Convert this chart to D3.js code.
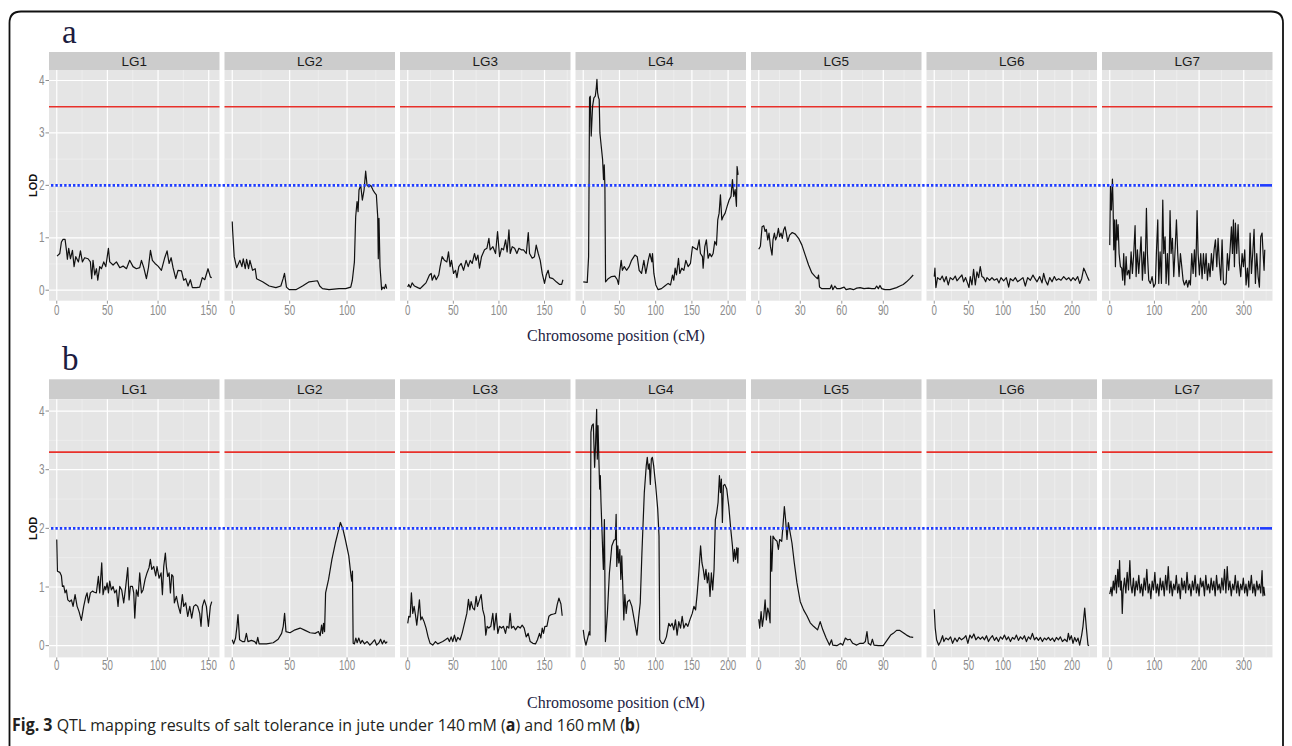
<!DOCTYPE html>
<html><head><meta charset="utf-8">
<script src="https://cdn.jsdelivr.net/npm/d3@7"></script>
<style>html,body{margin:0;padding:0;background:#fff;}svg{display:block;}</style>
</head><body>
<svg id="chart" width="1292" height="746"></svg>
<script>
// ---------------- DATA ----------------
const lgNames = ["LG1","LG2","LG3","LG4","LG5","LG6","LG7"];
const lgLength = [153, 135, 170, 214, 112, 225, 347];
const xTickValues = [[0,50,100,150],[0,50,100],[0,50,100,150],[0,50,100,150,200],[0,30,60,90],[0,50,100,150,200],[0,100,200,300]];
const yTickValues = [0,1,2,3,4];
const redThreshold = [3.5, 3.3];   // panel a, panel b
const blueThreshold = [2, 2];
const panelLetters = ["a","b"];
const axisTitle = "Chromosome position (cM)";
const yTitle = "LOD";

// panel a (140 mM) : [position cM, LOD]
const a_LG1 = [[0.3,0.65],[3,0.70],[4.6,0.92],[6.2,0.97],[8.2,0.97],[9.6,0.76],[10.5,0.59],[11.8,0.80],[13.5,0.60],[15.5,0.76],[17.1,0.45],[18.8,0.64],[21.4,0.54],[23.4,0.75],[25.3,0.54],[27.6,0.62],[30.9,0.60],[33.2,0.54],[34.5,0.22],[35.8,0.57],[37.5,0.29],[39.2,0.41],[40.5,0.19],[42.4,0.45],[44.1,0.41],[46.4,0.54],[48.4,0.45],[49.7,0.62],[51,0.80],[52.3,0.54],[55.6,0.48],[58.9,0.54],[62.2,0.43],[65.5,0.46],[68.8,0.41],[72,0.57],[75.3,0.45],[78.6,0.41],[81.9,0.43],[83.6,0.57],[85.9,0.43],[88.5,0.22],[90.5,0.43],[92.5,0.76],[94.4,0.57],[97,0.51],[100,0.46],[103.3,0.38],[106.6,0.62],[108.9,0.75],[110.9,0.51],[112.9,0.62],[114.8,0.43],[117.5,0.22],[119.7,0.38],[123.1,0.37],[125.3,0.19],[127.3,0.22],[129.6,0.08],[131.9,0.20],[133.9,0.05],[137.9,0.05],[141.1,0.06],[143.7,0.24],[146.1,0.20],[149.3,0.41],[151.7,0.25],[153,0.24]];
const a_LG2 = [[0,1.31],[0.3,1.15],[1.7,0.64],[3.8,0.43],[6.7,0.57],[8.4,0.45],[9.6,0.60],[11.3,0.41],[12.5,0.59],[14.2,0.41],[15.4,0.57],[17.7,0.38],[20,0.41],[21.2,0.22],[26.4,0.16],[32.2,0.08],[38,0.05],[42.3,0.08],[44.3,0.22],[45.5,0.32],[47.2,0.06],[49.6,0.01],[55.4,0.01],[61.2,0.08],[67,0.16],[74.2,0.18],[76.2,0.08],[78.6,0.03],[84.3,0.01],[93,0.03],[98.8,0.03],[103.2,0.06],[104.6,0.19],[106.4,0.54],[107.5,1.40],[108.7,1.69],[109.6,1.50],[110.4,1.91],[111.9,2.00],[113.3,1.72],[114.8,1.91],[116.2,2.27],[117.4,2.00],[119.1,1.97],[120.6,2.00],[122.6,1.91],[124.3,1.85],[125.5,1.82],[126.7,1.40],[127.2,0.60],[127.8,1.37],[128.7,0.45],[130.1,0.01],[131.3,0.06],[132.5,0.03],[133.6,0.11],[134.5,0.03]];
const a_LG3 = [[0,0.06],[1.1,0.11],[3,0.05],[4.8,0.14],[7.4,0.08],[11,0.05],[13.6,0.03],[16.5,0.08],[20,0.14],[22,0.22],[23.8,0.29],[25.7,0.32],[26.8,0.19],[29.3,0.29],[31.2,0.20],[34,0.29],[35.5,0.45],[37.7,0.64],[40.3,0.57],[42.9,0.54],[44.7,0.73],[46.5,0.45],[48,0.57],[50.2,0.32],[52.4,0.38],[53.9,0.24],[56,0.45],[58.6,0.51],[61.2,0.38],[64,0.57],[66.3,0.45],[68.5,0.57],[70.7,0.51],[73.2,0.70],[75,0.57],[76.9,0.67],[78.7,0.42],[80.9,0.64],[84.2,0.77],[86.8,0.80],[89,0.99],[90.4,0.77],[93.4,0.83],[96.3,0.70],[98.5,1.12],[100.7,0.64],[102.9,0.80],[105,0.77],[107.3,0.96],[109,0.73],[111,1.15],[112.4,0.70],[114.6,0.83],[117.2,0.80],[119.7,0.70],[121.9,0.80],[124.5,0.77],[127,0.77],[130,0.70],[132.2,1.10],[133.6,0.70],[136.5,0.61],[139,0.64],[140.9,0.86],[143.1,0.70],[145.3,0.57],[147.5,0.32],[150,0.13],[151.9,0.29],[154,0.38],[155.6,0.24],[159.2,0.22],[162.9,0.16],[166.6,0.11],[168.8,0.11],[170.2,0.20]];
const a_LG4 = [[0,0.16],[5.5,0.15],[7.4,0.64],[8.7,3.67],[9.7,3.70],[11,2.94],[12.9,3.51],[14.7,3.67],[16.6,3.70],[18,3.86],[18.9,4.02],[19.8,3.77],[21.1,3.67],[22,3.64],[23,3.00],[24.8,2.75],[26.7,2.49],[28,2.11],[29,2.39],[29.9,1.98],[30.8,0.16],[34.5,0.22],[39,0.26],[43.7,0.27],[47,0.20],[48.7,0.11],[50.6,0.38],[52.4,0.57],[54,0.38],[56.6,0.45],[59.8,0.38],[63.4,0.45],[66.7,0.57],[71.3,0.67],[74.5,0.64],[77.2,0.38],[80.5,0.32],[83.7,0.57],[86.4,0.32],[90,0.59],[92,0.70],[94.7,0.54],[95.6,0.70],[97.5,0.32],[100.2,0.10],[103.4,0.01],[108,0.03],[112.6,0.08],[117.2,0.13],[120.5,0.10],[123.2,0.29],[125,0.19],[126.9,0.42],[128.7,0.29],[131.5,0.61],[133.3,0.32],[136,0.42],[138.9,0.38],[141.6,0.57],[144.8,0.45],[148,0.51],[150.8,0.83],[154,0.80],[157.2,0.77],[160,0.96],[161.8,0.70],[164.6,0.64],[165.5,0.42],[167.8,0.83],[170,0.96],[172.4,0.61],[174.7,0.70],[177,0.64],[179.3,0.70],[181.6,0.93],[183.9,0.86],[185.7,1.34],[187.6,1.47],[189.4,1.82],[191.3,1.34],[193,1.40],[195.9,1.47],[198.6,1.60],[201.4,1.72],[204,1.79],[206,2.11],[207.8,1.79],[209.7,1.92],[211.5,1.60],[212.4,2.36],[213.8,2.20]];
const a_LG5 = [[0,0.78],[1.2,0.84],[2.4,1.21],[3.6,1.23],[4.6,1.12],[5.5,1.16],[6.5,0.96],[7.4,1.09],[8.4,0.84],[9.6,0.67],[10.3,0.96],[11.3,1.09],[12.2,0.96],[13.2,1.03],[14.2,1.18],[15.1,1.02],[16.1,1.09],[17,0.99],[18,1.15],[19,1.21],[19.9,1.09],[20.9,0.93],[22.3,1.05],[24.2,1.10],[26.4,1.07],[28.8,0.99],[31.2,0.86],[33.6,0.67],[36,0.48],[38.4,0.33],[40.8,0.26],[42.5,0.22],[43.2,0.29],[43.9,0.06],[45.6,0.03],[49.2,0.03],[51.6,0.03],[52.6,0.10],[53.5,0.01],[55,0.08],[56.4,0.03],[58.8,0.03],[61.7,0.06],[63.1,0.01],[66,0.03],[68.4,0.01],[70.8,0.04],[73.2,0.05],[76.1,0.03],[79.2,0.04],[81.6,0.03],[84,0.03],[85.2,0.08],[86.4,0.03],[87.6,0.09],[88.8,0.03],[91.2,0.01],[94.8,0.01],[97.2,0.03],[99.6,0.05],[102,0.08],[104.4,0.11],[106.8,0.16],[109.2,0.22],[111.6,0.29]];
const a_LG6 = [[0,0.26],[1,0.42],[2.4,0.05],[4.8,0.24],[8.7,0.20],[11.6,0.27],[14.5,0.16],[17.4,0.26],[20.3,0.10],[23.2,0.24],[27,0.20],[30.5,0.27],[33,0.18],[36.8,0.24],[40.2,0.29],[42.6,0.16],[45.5,0.24],[48.4,0.13],[50.4,0.05],[52.3,0.26],[54.7,0.10],[57.1,0.40],[59.6,0.10],[62,0.35],[64.4,0.24],[66.8,0.45],[69.2,0.26],[71.7,0.24],[74.6,0.16],[76.5,0.24],[80.4,0.19],[83.8,0.24],[87.2,0.19],[91,0.22],[94,0.14],[96.9,0.24],[100.7,0.18],[104.6,0.24],[108,0.06],[110.4,0.22],[114.3,0.18],[117.7,0.24],[121,0.16],[125,0.20],[128.8,0.24],[132.2,0.08],[135.6,0.24],[139.5,0.19],[143.3,0.29],[145.3,0.24],[149.2,0.16],[153,0.26],[156.4,0.14],[158.8,0.32],[161.3,0.19],[164.6,0.10],[167.6,0.24],[171,0.16],[174.3,0.26],[177.2,0.19],[180.6,0.22],[184,0.19],[187.9,0.26],[191.8,0.20],[195.2,0.24],[198.5,0.18],[201.5,0.24],[204.8,0.19],[208.2,0.26],[211.1,0.13],[214,0.22],[217,0.42],[219.4,0.35],[222.8,0.24],[225,0.18]];
const a_LG7 = [[0,0.86],[1.5,1.98],[3.7,1.53],[6,2.12],[7.5,1.60],[9,0.77],[11,1.34],[12.7,0.45],[15,1.34],[16.4,0.96],[18.7,1.25],[20.9,0.70],[23.9,0.45],[26.9,0.42],[29,0.19],[31.3,0.70],[33.6,0.10],[36.6,0.64],[38.8,0.29],[42.5,0.38],[44.8,0.22],[47.8,0.73],[50.7,0.32],[53.7,0.70],[56.7,1.23],[59,0.26],[61.9,0.77],[64.9,0.32],[67.9,0.70],[70.1,1.02],[73.1,0.19],[76.1,0.73],[79.1,0.32],[82.1,1.56],[84.3,0.70],[87.3,0.19],[91,0.13],[94.8,0.26],[98.5,0.06],[102.2,0.13],[104.5,0.73],[107.5,1.34],[109.7,0.13],[112.7,0.73],[115.7,0.13],[118.7,1.72],[120.9,0.70],[123.9,1.02],[126.1,0.13],[129.1,0.70],[132.1,0.10],[135,1.52],[137.3,0.70],[140.3,0.99],[143.3,0.26],[146.3,0.77],[149.3,1.34],[152.2,0.70],[155.2,0.26],[158.2,0.70],[161.2,0.45],[164.2,0.19],[167.2,0.10],[171.6,0.19],[174.6,0.06],[177.6,0.19],[180.6,0.10],[183.6,0.70],[186.6,0.32],[189.6,0.77],[192.5,0.26],[195.5,1.52],[197.8,0.70],[200.7,0.29],[203.7,0.70],[206.7,0.22],[209.7,0.70],[212.7,0.32],[215.7,0.70],[218.7,0.19],[221.6,0.51],[224.6,0.26],[227.6,0.70],[230.6,0.38],[233.6,0.77],[236.6,0.96],[239.6,0.45],[242.5,0.99],[245.5,0.51],[248.5,0.19],[251.5,0.96],[254.5,0.13],[257.5,0.10],[260.4,0.13],[263.4,0.70],[266.4,0.38],[269.4,0.77],[272.4,1.21],[274.6,0.70],[276.9,1.34],[279.1,0.45],[281.3,1.28],[284.3,0.70],[287.3,1.25],[290.3,0.51],[293.3,0.26],[296.3,0.70],[299.3,0.45],[302.2,0.77],[305.2,0.10],[308.2,0.42],[311.2,0.06],[314.2,1.09],[317.2,0.32],[320.1,0.70],[323.1,1.16],[326.1,0.13],[329.1,0.70],[332.1,0.26],[335.1,0.06],[338,1.02],[341,1.09],[343.3,0.70],[345.5,0.38],[347,0.77]];

// panel b (160 mM)
const b_LG1 = [[0,1.81],[0.7,1.27],[3,1.25],[4.6,1.19],[5.6,1.01],[6.9,1.02],[8.2,0.90],[9.5,0.95],[10.9,0.78],[12.8,0.75],[14.5,0.78],[16.1,0.67],[18.1,0.87],[20.1,0.67],[22,0.58],[24.3,0.43],[26.6,0.67],[28.6,0.83],[29.9,0.90],[31.3,0.73],[33.2,0.90],[35.2,0.93],[37.2,0.91],[39.1,0.90],[41.1,1.18],[42.4,0.90],[44.4,1.41],[45.7,0.87],[47.4,1.01],[48.4,0.95],[49.7,1.07],[51,0.90],[52.3,1.10],[53.9,0.95],[55.6,1.01],[57.2,0.90],[58.9,0.95],[60.5,0.67],[62.2,1.01],[64.1,0.95],[66.1,0.73],[68.1,1.01],[70.1,1.33],[71.4,0.78],[72.7,1.01],[74.7,1.01],[76,0.90],[77,0.47],[78.6,0.95],[80.3,0.84],[81.9,1.24],[83.6,0.90],[85.2,0.95],[87.2,1.13],[89.1,1.24],[91.1,1.33],[92.4,1.47],[93.8,1.30],[95.7,1.35],[97.7,1.19],[99,1.35],[101,1.15],[103,1.24],[104.3,0.87],[105.6,1.35],[107.2,1.58],[108.2,1.35],[109.5,1.18],[110.9,1.24],[112.2,0.90],[113.5,1.21],[114.8,1.18],[116.1,0.73],[118.1,0.84],[120.1,0.67],[122,0.55],[124,0.87],[125.3,0.67],[127.3,0.73],[129.3,0.50],[131.3,0.67],[133.2,0.47],[135.2,0.67],[137.2,0.70],[139.1,0.67],[141.1,0.55],[142.4,0.33],[143.8,0.67],[145.7,0.78],[147.7,0.67],[149.7,0.33],[151.6,0.67],[153,0.75]];
const b_LG2 = [[0,0.10],[1.2,0.03],[2.9,0.13],[4.1,0.33],[5,0.53],[6.4,0.10],[8.8,0.07],[10.8,0.07],[12.3,0.21],[13.7,0.07],[16.7,0.09],[19.6,0.07],[21,0.03],[22.2,0.14],[23.4,0.03],[29.8,0.03],[35.7,0.05],[40,0.11],[43,0.21],[44.4,0.33],[45.6,0.55],[46.8,0.24],[50.3,0.22],[54.7,0.27],[59.1,0.30],[63.5,0.26],[67.8,0.22],[72.2,0.21],[75.1,0.24],[76.6,0.17],[77.8,0.35],[78.7,0.21],[79.5,0.38],[80.4,0.24],[81.3,0.90],[83.9,1.13],[86.8,1.47],[89.8,1.75],[92.7,1.98],[94.2,2.10],[96.5,1.98],[98.5,1.81],[101.5,1.53],[103.5,1.18],[104.1,1.10],[104.7,1.27],[105.3,0.04],[106.4,0.03],[107.6,0.13],[108.8,0.05],[110.2,0.13],[111.7,0.04],[113.2,0.09],[115.2,0.03],[117.5,0.07],[119.9,0.01],[121.9,0.05],[124,0.10],[125.7,0.01],[127.8,0.05],[129.2,0.11],[130.7,0.03],[132.2,0.09],[133.6,0.04],[135,0.07]];
const b_LG3 = [[0,0.38],[1.1,0.50],[2.6,0.49],[4,0.90],[5.5,0.55],[7,0.67],[8.4,0.53],[9.9,0.35],[11.3,0.55],[12.8,0.78],[14.3,0.44],[15.7,0.49],[17.9,0.41],[20.1,0.30],[22.3,0.15],[24.5,0.04],[27.4,0.01],[30.4,0.07],[32.9,0.03],[35.5,0.05],[38.4,0.07],[41.3,0.10],[43.9,0.13],[45.7,0.07],[47.6,0.15],[49.4,0.07],[51.2,0.18],[53.1,0.07],[54.9,0.14],[57.4,0.10],[59.6,0.21],[62.2,0.38],[64.8,0.55],[66.6,0.79],[68.1,0.61],[69.5,0.75],[71.4,0.64],[73.2,0.61],[75,0.84],[76.5,0.67],[78.7,0.78],[80.5,0.87],[82.3,0.61],[84.2,0.50],[85.6,0.18],[87.1,0.33],[88.9,0.30],[91.1,0.33],[93.3,0.55],[94.8,0.27],[97,0.55],[98.8,0.21],[100.6,0.33],[102.8,0.30],[105,0.33],[107.2,0.21],[108.7,0.33],[110.9,0.30],[112.3,0.55],[113.8,0.30],[116,0.33],[118.2,0.27],[120.7,0.33],[123.3,0.30],[125.5,0.35],[127.7,0.30],[129.9,0.15],[132.1,0.21],[134.3,0.07],[137.2,0.04],[140.1,0.03],[142.3,0.10],[144.5,0.21],[146,0.13],[147.5,0.30],[148.9,0.21],[150.4,0.33],[152.6,0.33],[154.8,0.50],[157.3,0.53],[159.9,0.54],[162.1,0.55],[163.9,0.70],[165.8,0.81],[168,0.71],[169.4,0.51]];
const b_LG4 = [[0,0.27],[1.4,0.13],[3.7,0.01],[6.5,0.15],[8.3,0.24],[9.3,0.18],[10.6,3.64],[12,3.75],[13.9,3.78],[15.7,3.04],[17.1,3.47],[18.5,4.03],[19.4,3.18],[20.4,3.75],[21.8,3.07],[22.7,2.67],[23.6,2.90],[24.5,2.44],[25.9,1.95],[26.9,1.58],[27.8,1.30],[29.2,2.15],[30.6,0.07],[33.3,0.55],[36.1,1.24],[39.4,1.70],[42.6,1.80],[44.4,1.81],[45.4,2.24],[46.3,1.35],[47.7,1.70],[49.1,1.41],[50.5,1.64],[51.9,1.13],[53.2,1.53],[54.6,1.01],[56,0.44],[57.4,0.87],[59.3,0.55],[61.1,0.75],[63.9,0.78],[67.1,0.67],[70.4,0.44],[74.1,0.18],[76.4,0.47],[78.7,0.73],[81,1.58],[84.3,2.61],[87,3.07],[88.4,3.21],[89.8,3.01],[91.2,3.10],[92.6,2.75],[94,3.18],[95.4,3.21],[97.2,3.07],[100,2.73],[102.8,2.33],[104.6,1.87],[105.6,0.10],[108.3,0.04],[111.1,0.04],[114.8,0.15],[118.1,0.38],[120.4,0.33],[122.7,0.38],[125,0.27],[127.3,0.44],[129.6,0.18],[131.9,0.41],[134.3,0.30],[136.6,0.50],[138.9,0.30],[141.7,0.38],[144.4,0.33],[147.2,0.44],[150.5,0.55],[152.8,0.67],[155.1,0.61],[157.4,0.90],[159.7,1.27],[162,1.70],[163.9,1.41],[165.7,1.30],[167.6,1.13],[169.4,1.30],[171.3,1.07],[173.1,1.24],[175,0.84],[176.9,1.24],[178.7,0.95],[180.6,1.30],[182.4,2.15],[184.3,2.27],[186.1,2.44],[188,2.90],[189.4,2.61],[190.7,2.84],[192.1,2.10],[193.5,2.73],[195.4,2.75],[198.1,2.67],[200.9,2.38],[203.7,1.98],[206,1.70],[207.4,1.44],[208.8,1.64],[210.2,1.47],[212,1.67],[213.4,1.41],[214,1.67]];
const b_LG5 = [[0,0.45],[0.7,0.30],[1.7,0.58],[2.6,0.33],[3.6,0.50],[4.6,0.78],[5.5,0.44],[6.5,0.64],[7.4,0.55],[8.2,0.39],[8.6,1.87],[9.4,1.27],[10.3,1.87],[11.8,1.81],[13.2,1.78],[14.2,1.64],[15.1,1.81],[16.6,1.78],[17.5,2.04],[18.5,2.37],[19.4,2.15],[20.4,1.81],[21.4,2.10],[22.3,1.98],[24,1.75],[25.7,1.41],[27.6,1.07],[30,0.75],[32.4,0.61],[34.8,0.51],[37.2,0.39],[39.6,0.33],[42.5,0.27],[44.4,0.41],[46.3,0.27],[48.7,0.13],[51.1,0.01],[52.6,0.10],[53.5,0.01],[56.4,0],[59.3,0.04],[60.7,0.01],[62.6,0.13],[64.1,0.10],[66,0.11],[67.9,0.04],[70.8,0.01],[73.2,0.04],[75.6,0.04],[77,0.07],[78.2,0.24],[79.2,0.04],[80.9,0.01],[82.1,0.11],[83.3,0.01],[86.4,0],[90,0],[92.9,0.10],[95.3,0.18],[97.2,0.21],[99.6,0.26],[102,0.26],[104.4,0.22],[106.8,0.18],[109.2,0.15],[111.6,0.14]];
const b_LG6 = [[0,0.62],[1.4,0.30],[3.4,0.10],[6.3,0.01],[9.2,0.07],[12.1,0.17],[14,0.07],[16.9,0.13],[20.3,0.10],[23.7,0.15],[26.6,0.04],[30,0.13],[33.3,0.07],[36.2,0.14],[39.6,0.10],[43,0.13],[45.9,0.17],[48.8,0.04],[51.7,0.18],[54.6,0.13],[57.5,0.20],[60.4,0.10],[63.8,0.15],[67.1,0.11],[70,0.15],[72.9,0.10],[75.8,0.17],[78.7,0.07],[81.6,0.13],[84.5,0.17],[87.4,0.09],[90.3,0.14],[93.2,0.07],[96.1,0.15],[99,0.11],[101.9,0.18],[104.8,0.10],[107.7,0.15],[110.6,0.07],[113.5,0.14],[116.4,0.11],[119.3,0.18],[122.2,0.09],[125.1,0.15],[128,0.11],[130.9,0.17],[133.8,0.07],[136.7,0.15],[139.6,0.11],[142.5,0.21],[145.4,0.10],[148.3,0.14],[151.2,0.09],[154.1,0.14],[157,0.07],[159.9,0.13],[162.8,0.10],[165.7,0.14],[168.6,0.09],[171.5,0.13],[174.4,0.07],[177.3,0.14],[180.2,0.10],[183.1,0.15],[186,0.07],[189.4,0.11],[192.8,0.07],[194.7,0.21],[196.6,0.10],[199,0.17],[201.4,0.04],[203.9,0.14],[206.3,0.07],[208.7,0.13],[211.1,0.01],[214,0.18],[215.9,0.33],[218.4,0.64],[220.8,0.30],[223.2,0.01],[224.6,0]];
const b_LG7 = [[0,0.88],[3,1.0],[5,0.85],[8,1.1],[10,0.95],[13,1.2],[15,0.9],[18,1.3],[20,1.0],[22,1.45],[24,0.95],[26,1.1],[28,0.55],[30,0.95],[33,1.15],[36,0.9],[39,1.25],[42,0.95],[45,1.45],[47,1.05],[50,0.9],[53,1.15],[56,0.85],[59,1.1],[62,0.95],[65,1.2],[68,0.9],[71,1.05],[74,0.85],[77,1.15],[80,0.95],[83,1.3],[86,0.9],[89,1.05],[92,0.8],[95,1.1],[98,0.95],[101,1.25],[104,0.9],[107,1.05],[110,0.85],[113,1.15],[116,0.95],[119,1.1],[122,0.85],[125,1.2],[128,0.95],[131,1.35],[134,0.9],[137,1.1],[140,0.85],[143,1.05],[146,0.95],[149,1.2],[152,0.9],[155,1.05],[158,0.8],[161,1.15],[164,0.95],[167,1.1],[170,0.9],[173,1.25],[176,0.95],[179,1.05],[182,0.85],[185,1.1],[188,0.95],[191,1.2],[194,0.9],[197,1.05],[200,0.85],[203,1.15],[206,1.0],[209,1.1],[212,0.85],[215,1.2],[218,0.95],[221,1.05],[224,0.9],[227,1.15],[230,0.95],[233,1.1],[236,0.85],[239,1.2],[242,0.95],[245,1.05],[248,0.9],[251,1.15],[254,0.95],[257,1.3],[260,0.9],[263,1.35],[266,0.95],[269,1.1],[272,0.85],[275,1.05],[278,0.95],[281,1.2],[284,0.9],[287,1.1],[290,0.85],[293,1.05],[296,0.95],[299,1.15],[302,0.9],[305,1.05],[308,0.85],[311,1.1],[314,0.95],[317,1.2],[320,0.9],[323,1.05],[326,0.85],[329,1.1],[332,0.95],[335,1.05],[338,0.9],[341,1.28],[343,0.85],[345,1.0],[347,0.85]];

const seriesA = [a_LG1,a_LG2,a_LG3,a_LG4,a_LG5,a_LG6,a_LG7];
const seriesB = [b_LG1,b_LG2,b_LG3,b_LG4,b_LG5,b_LG6,b_LG7];

// ---------------- LAYOUT ----------------
const PANEL_LEFT = 49, PANEL_W = 170.5, PANEL_STEP = 175.5;
const rows = [
  {stripTop:52, plotTop:70, plotBottom:300.7, tickLabelY:314.5, titleY:341, letterY:43},
  {stripTop:379.3, plotTop:399.3, plotBottom:657.4, tickLabelY:669.5, titleY:708, letterY:370}
];

const svg = d3.select("#chart");

// frame
svg.append("path")
  .attr("d","M9.5,760 L9.5,23 Q9.5,11.5 21,11.5 L1271,11.5 Q1283,11.5 1283,23 L1283,760")
  .attr("fill","none").attr("stroke","#111").attr("stroke-width",1.8);

function drawRow(r, data) {
  const cfg = rows[r];
  const g = svg.append("g");
  const y = d3.scaleLinear().domain([-0.2,4.2]).range([cfg.plotBottom, cfg.plotTop]);
  const yMinor = [0.5,1.5,2.5,3.5];

  lgNames.forEach((name,i) => {
    const x0 = PANEL_LEFT + i*PANEL_STEP;
    const L = lgLength[i];
    const x = d3.scaleLinear().domain([-0.05*L, 1.05*L]).range([x0, x0+PANEL_W]);
    const ticks = xTickValues[i];
    const step = ticks[1]-ticks[0];
    const minors = [];
    for (let v = ticks[0]-step/2; v <= 1.05*L; v += step) if (v >= -0.05*L) minors.push(v);

    // strip
    g.append("rect").attr("x",x0).attr("y",cfg.stripTop).attr("width",PANEL_W)
      .attr("height",cfg.plotTop-cfg.stripTop).attr("fill","#cccccc");
    g.append("text").attr("x",x0+PANEL_W/2).attr("y",(cfg.stripTop+cfg.plotTop)/2+4.8)
      .attr("text-anchor","middle").attr("font-family","Liberation Sans, Arial, sans-serif")
      .attr("font-size",13.5).attr("fill","#1a1a1a").text(name);
    // panel bg
    g.append("rect").attr("x",x0).attr("y",cfg.plotTop).attr("width",PANEL_W)
      .attr("height",cfg.plotBottom-cfg.plotTop).attr("fill","#e5e5e5");
    // minor grid
    yMinor.forEach(v => g.append("line").attr("x1",x0).attr("x2",x0+PANEL_W)
      .attr("y1",y(v)).attr("y2",y(v)).attr("stroke","#f2f2f2").attr("stroke-width",0.6));
    minors.forEach(v => g.append("line").attr("x1",x(v)).attr("x2",x(v))
      .attr("y1",cfg.plotTop).attr("y2",cfg.plotBottom).attr("stroke","#f2f2f2").attr("stroke-width",0.6));
    // major grid
    yTickValues.forEach(v => g.append("line").attr("x1",x0).attr("x2",x0+PANEL_W)
      .attr("y1",y(v)).attr("y2",y(v)).attr("stroke","#ffffff").attr("stroke-width",1.2));
    ticks.forEach(v => g.append("line").attr("x1",x(v)).attr("x2",x(v))
      .attr("y1",cfg.plotTop).attr("y2",cfg.plotBottom).attr("stroke","#ffffff").attr("stroke-width",1.2));
    // red threshold
    g.append("line").attr("x1",x0).attr("x2",x0+PANEL_W)
      .attr("y1",y(redThreshold[r])).attr("y2",y(redThreshold[r]))
      .attr("stroke","#e8302a").attr("stroke-width",1.6);
    // curve
    g.append("path").datum(data[i])
      .attr("d", d3.line().x(d=>x(d[0])).y(d=>y(d[1])))
      .attr("fill","none").attr("stroke","#111").attr("stroke-width",1.2)
      .attr("stroke-linejoin","round");
    // x ticks & labels
    ticks.forEach(v => {
      g.append("line").attr("x1",x(v)).attr("x2",x(v)).attr("y1",cfg.plotBottom)
        .attr("y2",cfg.plotBottom+3).attr("stroke","#9a9a9a").attr("stroke-width",1);
      g.append("text").attr("transform",`translate(${x(v)},${cfg.tickLabelY}) scale(0.78,1.1)`)
        .attr("text-anchor","middle").attr("font-family","Liberation Sans, Arial, sans-serif")
        .attr("font-size",12.5).attr("fill","#8c8c8c").text(v);
    });
  });

  // y ticks & labels
  yTickValues.forEach(v => {
    g.append("line").attr("x1",45.5).attr("x2",49).attr("y1",y(v)).attr("y2",y(v))
      .attr("stroke","#8c8c8c").attr("stroke-width",1);
    g.append("text").attr("transform",`translate(44.5,${y(v)+4.5}) scale(0.8,1.1)`)
      .attr("text-anchor","end").attr("font-family","Liberation Sans, Arial, sans-serif")
      .attr("font-size",12.5).attr("fill","#8c8c8c").text(v);
  });
  // LOD label
  const cy = (cfg.plotTop+cfg.plotBottom)/2;
  g.append("text").attr("transform",`translate(37,${cy}) rotate(-90)`)
    .attr("text-anchor","middle").attr("font-family","Liberation Sans, Arial, sans-serif")
    .attr("font-size",11).attr("font-weight","bold").attr("fill","#111").text(yTitle);

  // blue suggestive line (across all panels)
  const yb = y(blueThreshold[r]);
  g.append("line").attr("x1",51).attr("x2",1260).attr("y1",yb).attr("y2",yb)
    .attr("stroke","#1f3cff").attr("stroke-width",2.6).attr("stroke-dasharray","2.4,2");
  g.append("line").attr("x1",1260).attr("x2",1272).attr("y1",yb).attr("y2",yb)
    .attr("stroke","#1f3cff").attr("stroke-width",2.6);

  // axis title
  g.append("text").attr("x",616).attr("y",cfg.titleY).attr("text-anchor","middle")
    .attr("font-family","Liberation Serif, Times New Roman, serif").attr("font-size",16)
    .attr("fill","#1f1f45").text(axisTitle);
  // panel letter
  g.append("text").attr("x",62).attr("y",cfg.letterY)
    .attr("font-family","Liberation Serif, Times New Roman, serif").attr("font-size",33)
    .attr("fill","#1c1c40").text(panelLetters[r]);
}

drawRow(0, seriesA);
drawRow(1, seriesB);

// caption
const cap = svg.append("text").attr("font-family","Open Sans, Noto Sans, sans-serif")
  .attr("font-size",17).attr("fill","#231f20");
const parts = [["Fig. 3",true],[" QTL mapping results of salt tolerance in jute under 140\u2009mM (",false],["a",true],[") and 160\u2009mM (",false],["b",true],[")",false]];
parts.forEach(p => cap.append("tspan").attr("font-weight", p[1] ? "bold" : "normal").text(p[0]));
const w = cap.node().getComputedTextLength();
cap.attr("transform",`translate(12,731) scale(${628/w},1)`);
</script>
</body></html>
